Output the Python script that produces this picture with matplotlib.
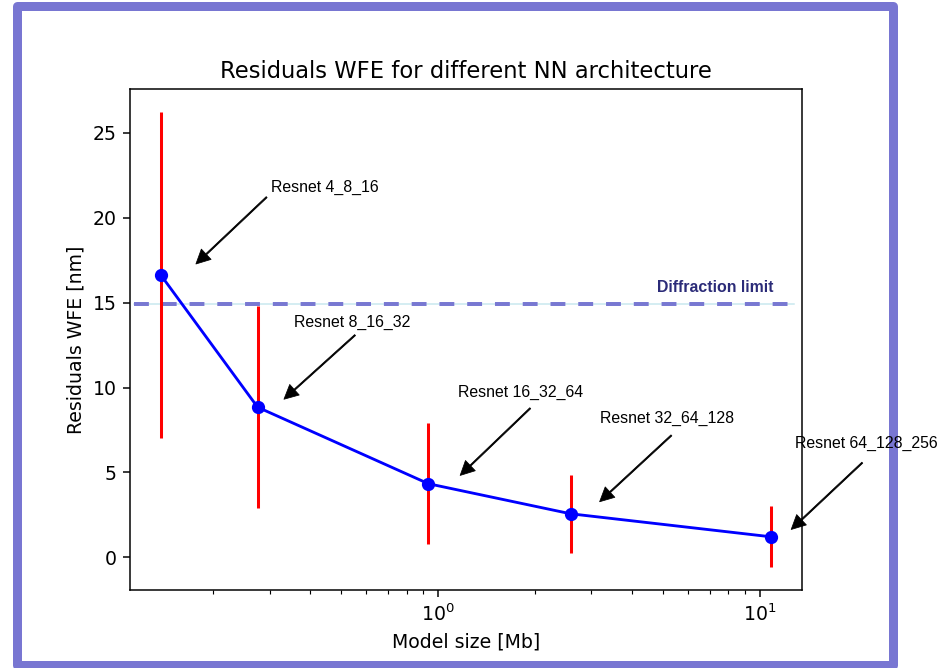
import numpy as np
import matplotlib
matplotlib.use('Agg')
import matplotlib.pyplot as plt
from matplotlib.patches import Rectangle

# model size [Mb] vs residual WFE [nm]
model_size = [0.1375, 0.2754, 0.935, 2.585, 10.88]
wfe = [16.65, 8.84, 4.33, 2.56, 1.20]
wfe_err = [9.6, 5.95, 3.57, 2.29, 1.79]
names = ['Resnet 4_8_16', 'Resnet 8_16_32', 'Resnet 16_32_64', 'Resnet 32_64_128', 'Resnet 64_128_256']
diffraction_limit = 14.9

# annotation layout (data coords): text anchor, arrow tail, arrow tip
text_pos = [(0.3023, 21.51), (0.3573, 13.56), (1.159, 9.47), (3.198, 7.93), (12.92, 6.46)]
arrow_tail = [(0.2938, 21.22), (0.5531, 13.09), (1.937, 8.78), (5.318, 7.18), (20.84, 5.57)]
arrow_tip = [(0.1771, 17.28), (0.3325, 9.31), (1.173, 4.82), (3.182, 3.27), (12.53, 1.635)]

DPI = 136
fig = plt.figure(figsize=(945 / DPI, 668 / DPI), dpi=DPI)
ax = fig.add_axes([130 / 945, 78 / 668, 672 / 945, 501 / 668])

ax.errorbar(model_size, wfe, yerr=wfe_err, fmt='bo-', ecolor='r', elinewidth=1.6)
ax.set_xscale('log')

ax.axhline(diffraction_limit, xmin=0.006, xmax=0.988, color='#c8e8ee', lw=0.8, zorder=1)
ax.axhline(diffraction_limit, xmin=0.006, xmax=0.988, color='#7878d2', lw=2.1,
           dashes=(3.75, 3.25), zorder=1.5)
ax.text(11.04, 15.64, 'Diffraction limit', ha='right', va='baseline', color='#2b2b78',
        fontsize=8.4, fontweight='bold', family='Liberation Sans')

ax.set_title('Residuals WFE for different NN architecture')
ax.set_xlabel('Model size [Mb]')
ax.set_ylabel('Residuals WFE [nm]')

for i in range(len(names)):
    ax.text(text_pos[i][0], text_pos[i][1], names[i], ha='left', va='baseline',
            fontsize=8.4, family='Liberation Sans', zorder=5)
    ax.annotate('', xy=arrow_tip[i], xytext=arrow_tail[i], annotation_clip=False,
                arrowprops=dict(facecolor='black', edgecolor='black', lw=0.4, width=0.7,
                                headwidth=7.5, headlength=7.5, shrink=0.0))

# purple frame around the figure
frame = Rectangle((16.7 / 945, 3.5 / 668), (893 - 16.7) / 945, (664.5 - 6.2) / 668,
                  transform=fig.transFigure, fill=False, edgecolor='#7876d2',
                  lw=9 * 72 / DPI, joinstyle='round', zorder=-1)
fig.patches.append(frame)

fig.savefig('out.png', dpi=DPI)
